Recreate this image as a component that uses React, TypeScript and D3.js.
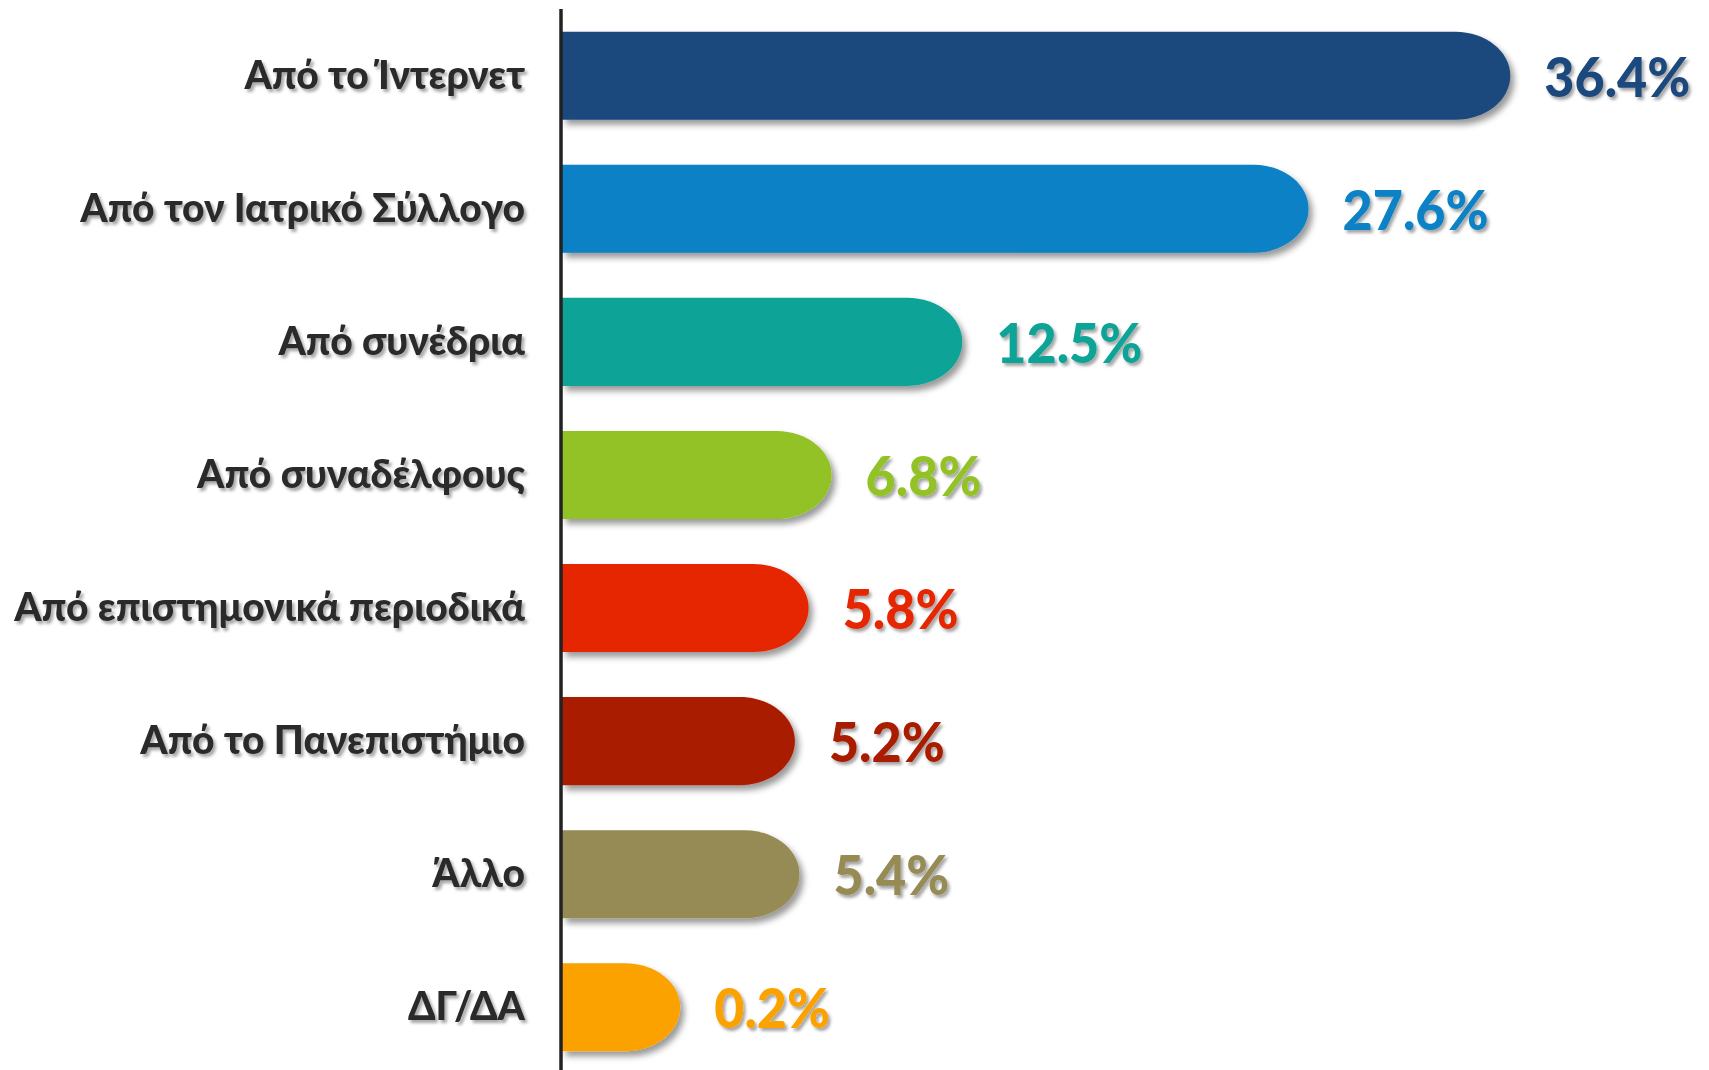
import React from "react";
import * as d3 from "d3";

const categories = [
  "Από το Ίντερνετ",
  "Από τον Ιατρικό Σύλλογο",
  "Από συνέδρια",
  "Από συναδέλφους",
  "Από επιστημονικά περιοδικά",
  "Από το Πανεπιστήμιο",
  "Άλλο",
  "ΔΓ/ΔΑ",
];
const values = [36.4, 27.6, 12.5, 6.8, 5.8, 5.2, 5.4, 0.2];
const colors = [
  "#1f497d",
  "#0881c5",
  "#0ba397",
  "#93c225",
  "#e52600",
  "#aa1e00",
  "#978b55",
  "#fba200",
];

const W = 1709;
const H = 1070;

export default function App() {
  const x = d3.scaleLinear().domain([-5, 40]).range([561, 561 + 45 * 22.93]);
  const y = d3
    .scaleBand<string>()
    .domain(categories)
    .range([9, 1074])
    .paddingInner(0.338)
    .paddingOuter(0.17);
  const bh = y.bandwidth();
  const x0 = 562;

  const barPath = (v: number, top: number) => {
    const x1 = x(v);
    const ry = bh / 2;
    const rx = 55;
    const p = d3.path();
    p.moveTo(x0, top);
    p.lineTo(x1 - rx, top);
    const k = 0.5523;
    p.bezierCurveTo(x1 - rx + rx * k, top, x1, top + ry - ry * k, x1, top + ry);
    p.bezierCurveTo(x1, top + ry + ry * k, x1 - rx + rx * k, top + bh, x1 - rx, top + bh);
    p.lineTo(x0, top + bh);
    p.closePath();
    return p.toString();
  };

  return (
    <div style={{ position: "absolute", left: 0, top: 0 }}>
      <svg width={W} height={H} style={{ display: "block", background: "#fff" }}>
        <defs>
          <filter id="barShadow" x="-10%" y="-20%" width="130%" height="160%">
            <feDropShadow dx="4" dy="5" stdDeviation="3" floodColor="#000" floodOpacity="0.4" />
          </filter>
          <filter id="textShadow" x="-10%" y="-20%" width="130%" height="160%">
            <feDropShadow dx="2.5" dy="3" stdDeviation="1.6" floodColor="#000" floodOpacity="0.35" />
          </filter>
        </defs>
        {categories.map((c, i) => {
          const top = y(c) as number;
          const cy = top + bh / 2;
          return (
            <g key={c}>
              <path d={barPath(values[i], top)} fill={colors[i]} filter="url(#barShadow)" />
              <text
                x={525}
                y={cy + 13}
                textAnchor="end"
                fontFamily="Lato, 'Noto Sans', 'DejaVu Sans', sans-serif"
                fontWeight={900}
                fontSize={39}
                fill="#2b2b2b"
                filter="url(#textShadow)"
              >
                {c}
              </text>
              <g transform={`translate(${x(values[i]) + 34},${cy + 21}) scale(0.93,1)`}>
                <text
                  x={0}
                  y={0}
                  textAnchor="start"
                  fontFamily="Lato, Roboto, sans-serif"
                  fontWeight={900}
                  fontSize={56}
                  fill={colors[i]}
                  filter="url(#textShadow)"
                >
                  {values[i].toFixed(1)}%
                </text>
              </g>
            </g>
          );
        })}
        <line x1={561} x2={561} y1={9} y2={H} stroke="#222" strokeWidth={3.5} />
      </svg>
    </div>
  );
}
